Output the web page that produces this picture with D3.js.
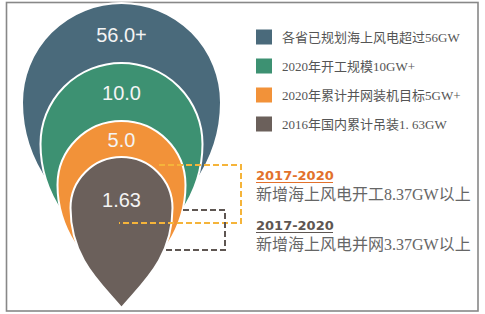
<!DOCTYPE html>
<html>
<head>
<meta charset="utf-8">
<script src="https://cdn.jsdelivr.net/npm/d3@7"></script>
<style>
  body { margin: 0; background: #fff; }
  svg { display: block; }
</style>
</head>
<body>
<svg width="485" height="314"></svg>
<script>
var categories = ["各省已规划海上风电超过56GW", "2020年开工规模10GW+", "2020年累计并网装机目标5GW+", "2016年国内累计吊装1. 63GW"];
var values = [56.0, 10.0, 5.0, 1.63];
var valueLabels = ["56.0+", "10.0", "5.0", "1.63"];
var noteYears = ["2017-2020", "2017-2020"];
var noteTexts = ["新增海上风电开工8.37GW以上", "新增海上风电并网3.37GW以上"];

var svg = d3.select("svg"),
    width = +svg.attr("width"),
    height = +svg.attr("height"),
    cx = 121.5;

var color = d3.scaleOrdinal().domain(categories)
    .range(["#4a6a7b", "#3d9172", "#f29239", "#6b605b"]);
// pin sizes are not proportional to the values, they are stepped
var radius = d3.scaleOrdinal().domain(categories).range([99.5, 81, 64, 51]);
var pinTop = d3.scaleOrdinal().domain(categories).range([3, 63, 121, 157]);
// the bigger pins have shorter tails, hidden behind the next one
var tail = d3.scaleOrdinal().domain(categories).range([1.55, 1.6, 1.72, 1.96]);
var labelY = d3.scaleOrdinal().domain(categories).range([42, 100, 147, 207]);
var legendY = d3.scalePoint().domain(categories).range([37, 124]);
var noteY = d3.scalePoint().domain([0, 1]).range([180, 230]);

var data = categories.map(function(c, i) {
  return {name: c, value: values[i], label: valueLabels[i]};
});

// frame
svg.append("rect")
    .attr("x", 6.5).attr("y", 2.5)
    .attr("width", 471.5).attr("height", 308.5)
    .attr("fill", "#fff")
    .attr("stroke", "#888")
    .attr("stroke-width", 1.6);

function pin(d) {
  var r = radius(d.name),
      cy = pinTop(d.name) + r,
      s = tail(d.name) / 1.96,
      p = d3.path();
  p.moveTo(cx - r, cy);
  p.arc(cx, cy, r, Math.PI, 2 * Math.PI);
  p.bezierCurveTo(cx + r, cy + 1.0 * r * s, cx + 0.38 * r, cy + 1.5 * r * s, cx, cy + 1.96 * r * s);
  p.bezierCurveTo(cx - 0.38 * r, cy + 1.5 * r * s, cx - r, cy + 1.0 * r * s, cx - r, cy);
  p.closePath();
  return p.toString();
}

var g = svg.append("g");

g.selectAll(".pin")
    .data(data)
    .enter().append("path")
      .attr("class", "pin")
      .attr("d", pin)
      .attr("fill", function(d) { return color(d.name); })
      .attr("stroke", "#fff")
      .attr("stroke-width", 2);

g.selectAll(".val")
    .data(data)
    .enter().append("text")
      .attr("class", "val")
      .attr("x", cx)
      .attr("y", function(d) { return labelY(d.name); })
      .attr("text-anchor", "middle")
      .style("font", "20px 'Liberation Sans', Arial, sans-serif")
      .attr("fill", "#f4f4f4")
      .text(function(d) { return d.label; });

// dashed connectors to the notes
var line = d3.line();
svg.append("path")
    .attr("d", line([[159, 165], [241, 165], [241, 223], [119, 223]]))
    .attr("fill", "none")
    .attr("stroke", "#f5b43a")
    .attr("stroke-width", 2)
    .attr("stroke-dasharray", "6,3");

svg.append("path")
    .attr("d", line([[183, 210], [225, 210], [225, 250], [164, 250]]))
    .attr("fill", "none")
    .attr("stroke", "#5e5652")
    .attr("stroke-width", 2)
    .attr("stroke-dasharray", "6,3");

// legend
var legend = svg.selectAll(".legend")
    .data(data)
    .enter().append("g")
      .attr("class", "legend")
      .attr("transform", function(d) { return "translate(256," + legendY(d.name) + ")"; });

legend.append("rect")
    .attr("x", 0).attr("y", -7.5)
    .attr("width", 16).attr("height", 15)
    .attr("fill", function(d) { return color(d.name); });

legend.append("text")
    .attr("x", 26)
    .attr("dy", "0.35em")
    .style("font", "13px 'Liberation Serif', 'Noto Sans CJK SC', serif")
    .attr("fill", "#555")
    .text(function(d) { return d.name; });

// notes
var noteColors = ["#e2712c", "#5e5652"];
var note = svg.selectAll(".note")
    .data(noteYears)
    .enter().append("g")
      .attr("class", "note")
      .attr("transform", function(d, i) { return "translate(256," + noteY(i) + ")"; });

note.append("text")
    .style("font", "bold 13px 'DejaVu Sans', sans-serif")
    .attr("fill", function(d, i) { return noteColors[i]; })
    .text(function(d) { return d; });

note.append("line")
    .attr("x1", 0).attr("x2", 77)
    .attr("y1", 2.5).attr("y2", 2.5)
    .attr("stroke", function(d, i) { return noteColors[i]; })
    .attr("stroke-width", 1.2);

note.append("text")
    .attr("y", 20)
    .style("font", "16px 'Liberation Serif', 'Noto Sans CJK SC', serif")
    .attr("fill", "#666")
    .text(function(d, i) { return noteTexts[i]; });
</script>
</body>
</html>
